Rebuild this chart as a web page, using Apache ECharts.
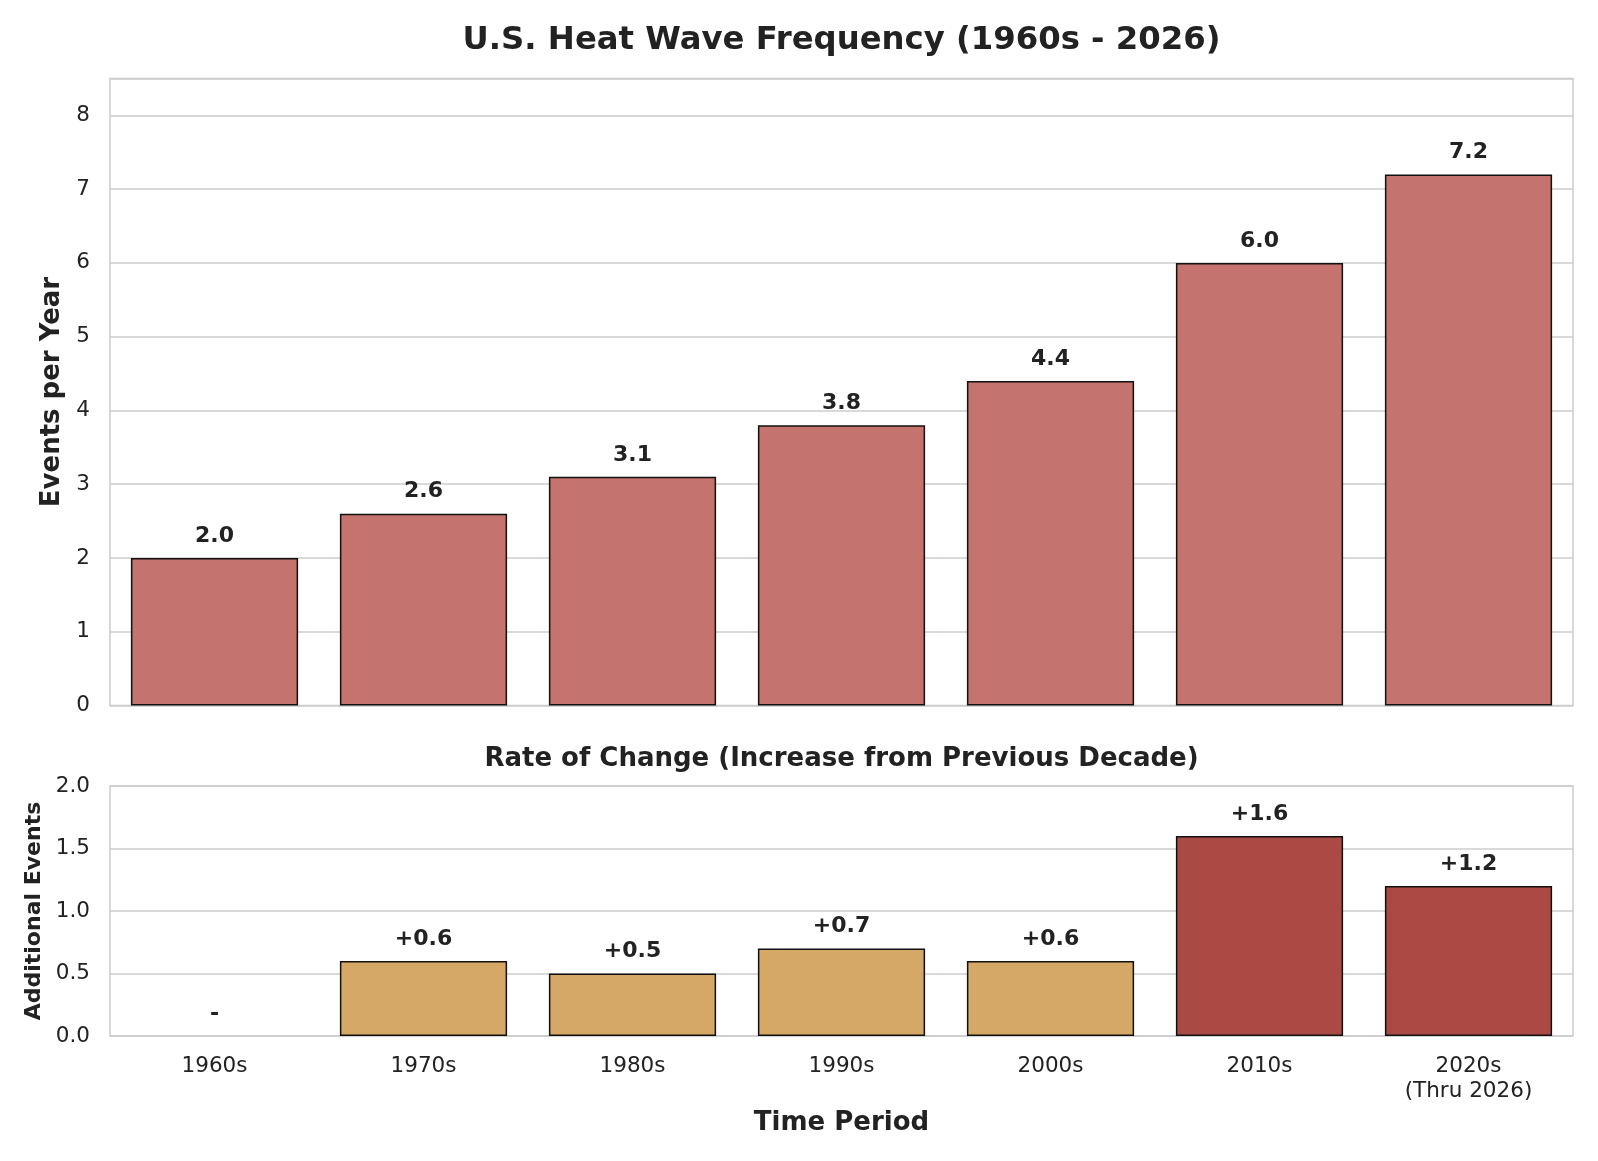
<!DOCTYPE html>
<html>
<head>
<meta charset="utf-8">
<script src="https://cdn.jsdelivr.net/npm/echarts@6/dist/echarts.min.js"></script>
<style>
html,body{margin:0;padding:0;background:#fff;}
#chart{width:1598px;height:1161px;}
</style>
</head>
<body>
<div id="chart"></div>
<script>
var categories = ['1960s', '1970s', '1980s', '1990s', '2000s', '2010s', '2020s\n(Thru 2026)'];
var eventsPerYear = [2.0, 2.6, 3.1, 3.8, 4.4, 6.0, 7.2];
var rateOfChange = [0, 0.6, 0.5, 0.7, 0.6, 1.6, 1.2];
var topTicks = [0, 1, 2, 3, 4, 5, 6, 7, 8];
var bottomTicks = [0.0, 0.5, 1.0, 1.5, 2.0];

var FONT = 'DejaVu Sans';
var TOP_COLOR = '#c4736f';
var ORANGE = '#d6a867';
var DARKRED = '#ab4a45';

var chart = echarts.init(document.getElementById('chart'), null, {renderer: 'canvas'});

var bottomData = rateOfChange.map(function (v, i) {
  var item = {value: v, itemStyle: {color: v >= 1.0 ? DARKRED : ORANGE}};
  if (i === 0) { item.itemStyle = {color: 'rgba(0,0,0,0)', borderWidth: 0}; }
  return item;
});

var option = {
  backgroundColor: '#ffffff',
  animation: false,
  textStyle: {fontFamily: FONT},
  title: [
    {text: 'U.S. Heat Wave Frequency (1960s - 2026)', left: 841.5, top: 25, textAlign: 'center', padding: 0,
     textStyle: {fontFamily: FONT, fontSize: 32.3, fontWeight: 'bold', color: '#222'}},
    {text: 'Rate of Change (Increase from Previous Decade)', left: 841.5, top: 746, textAlign: 'center', padding: 0,
     textStyle: {fontFamily: FONT, fontSize: 26, fontWeight: 'bold', color: '#222'}}
  ],
  grid: [
    {left: 110, right: 25, top: 78.5, height: 627, show: true, borderColor: '#cccccc', borderWidth: 1.5, backgroundColor: '#fff'},
    {left: 110, right: 25, top: 786, height: 250, show: true, borderColor: '#cccccc', borderWidth: 1.5, backgroundColor: '#fff'}
  ],
  xAxis: [
    {type: 'category', gridIndex: 0, data: categories, axisTick: {show: false},
     axisLine: {show: false}, axisLabel: {show: false}, splitLine: {show: false}},
    {type: 'category', gridIndex: 1, data: categories, axisTick: {show: false},
     axisLine: {show: false},
     axisLabel: {fontFamily: FONT, fontSize: 21.5, color: '#222', margin: 18, lineHeight: 25},
     splitLine: {show: false},
     name: 'Time Period', nameLocation: 'middle', nameGap: 74,
     nameTextStyle: {fontFamily: FONT, fontSize: 26, fontWeight: 'bold', color: '#222'}}
  ],
  yAxis: [
    {type: 'value', gridIndex: 0, min: 0, max: 8.5, interval: 1,
     axisLine: {show: false}, axisTick: {show: false},
     axisLabel: {fontFamily: FONT, fontSize: 21.5, color: '#222', margin: 20, showMaxLabel: false,
       formatter: function (v) { return topTicks.indexOf(v) >= 0 ? String(v) : ''; }},
     splitLine: {lineStyle: {color: '#cccccc', width: 1.5}},
     name: 'Events per Year', nameLocation: 'middle', nameGap: 40,
     nameTextStyle: {fontFamily: FONT, fontSize: 26, fontWeight: 'bold', color: '#222'}},
    {type: 'value', gridIndex: 1, min: 0, max: 2, interval: 0.5,
     axisLine: {show: false}, axisTick: {show: false},
     axisLabel: {fontFamily: FONT, fontSize: 21.5, color: '#222', margin: 20,
       formatter: function (v) { return bottomTicks.indexOf(v) >= 0 ? v.toFixed(1) : ''; }},
     splitLine: {lineStyle: {color: '#cccccc', width: 1.5}},
     name: 'Additional Events', nameLocation: 'middle', nameGap: 65,
     nameTextStyle: {fontFamily: FONT, fontSize: 22, fontWeight: 'bold', color: '#222'}}
  ],
  series: [
    {type: 'bar', xAxisIndex: 0, yAxisIndex: 0, data: eventsPerYear, barWidth: '80%',
     itemStyle: {color: TOP_COLOR, borderColor: '#111', borderWidth: 1.5},
     label: {show: true, position: 'top', distance: 11, fontFamily: FONT, fontSize: 22, fontWeight: 'bold', color: '#222',
       formatter: function (p) { return p.value.toFixed(1); }}},
    {type: 'bar', xAxisIndex: 1, yAxisIndex: 1, data: bottomData, barWidth: '80%',
     itemStyle: {borderColor: '#111', borderWidth: 1.5},
     label: {show: true, position: 'top', distance: 11, fontFamily: FONT, fontSize: 22, fontWeight: 'bold', color: '#222',
       formatter: function (p) { return p.value === 0 ? '-' : '+' + p.value.toFixed(1); }}}
  ]
};
chart.setOption(option);
</script>
</body>
</html>
